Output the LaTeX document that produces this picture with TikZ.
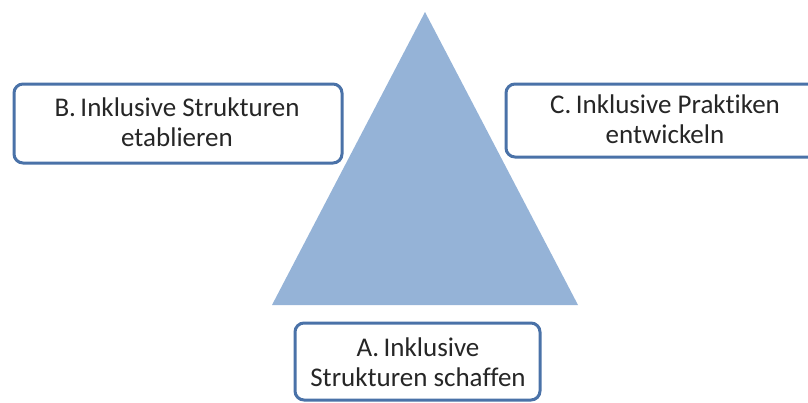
\documentclass[tikz,border=0pt]{standalone}
\usepackage{fontspec}
\setmainfont[Ligatures={NoCommon}]{Carlito}
\definecolor{tri}{HTML}{95B3D7}
\definecolor{edge}{HTML}{4A72A8}
\definecolor{txt}{HTML}{262626}
\begin{document}
\begin{tikzpicture}[x=1pt,y=-1pt,
  box/.style={draw=edge,line width=3pt,rounded corners=9pt,fill=white,inner sep=0pt},
  lbl/.style={text=txt,align=center,font=\fontsize{27}{30}\selectfont}]
\useasboundingbox (0,0) rectangle (808,402);
\fill[tri] (425,12) -- (578,305) -- (272,305) -- cycle;
\draw[box] (14,84) rectangle (342,163);
\node[lbl] (b) at (177,122) {B.\,Inklusive Strukturen\\etablieren};
\draw[box] (506,84) rectangle (830,157);
\node[lbl] (c) at (665,119) {C.\,Inklusive Praktiken\\entwickeln};
\draw[box] (295,323) rectangle (540,400);
\node[lbl] (a) at (418,362) {A.\,Inklusive\\Strukturen schaffen};
\end{tikzpicture}
\end{document}
